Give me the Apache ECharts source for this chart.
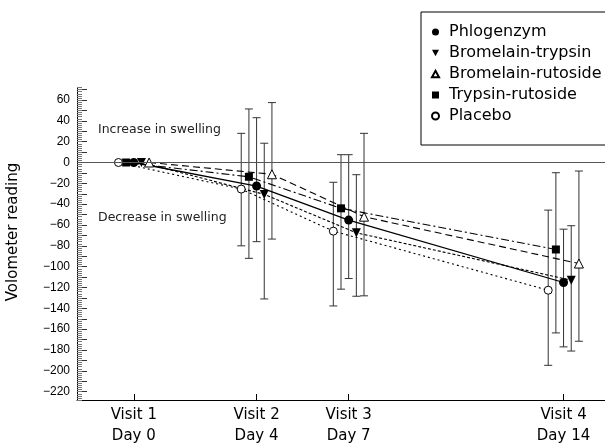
<html>
<head>
    <meta charset="utf-8">
    <title>Volometer reading</title>
    <script src="https://cdn.jsdelivr.net/npm/echarts@6/dist/echarts.min.js"></script>
</head>
<body style="margin:0">
    <div id="main" style="width:605px;height:447px"></div>
    <script type="text/javascript">
        var days = [0, 4, 7, 14];
        var visitLabels = ['Visit 1\nDay 0', 'Visit 2\nDay 4', 'Visit 3\nDay 7', 'Visit 4\nDay 14'];
        var yMajorTicks = [-220, -210, -200, -190, -180, -170, -160, -150, -140, -130, -120, -110, -100, -90, -80, -70, -60, -50, -40, -30, -20, -10, 0, 10, 20, 30, 40, 50, 60, 70];
        var yTickLabels = [-220, -200, -180, -160, -140, -120, -100, -80, -60, -40, -20, 0, 20, 40, 60];

        var names = ['Phlogenzym', 'Bromelain-trypsin', 'Bromelain-rutoside', 'Trypsin-rutoside', 'Placebo'];
        // horizontal shift of each group at a visit (days)
        var offsets = [0, 0.25, 0.5, -0.25, -0.5];

        var phlogenzym = [0, -22.6, -55.3, -115.2];
        var phlogenzymHi = [null, 43, 7.5, -64];
        var phlogenzymLo = [null, -76, -111.4, -177];

        var bromTryp = [0, -30.6, -67.5, -113];
        var bromTrypHi = [null, 18.5, -11.7, -60.7];
        var bromTrypLo = [null, -131, -128.4, -181];

        var bromRuto = [0, -11.3, -52, -97];
        var bromRutoHi = [null, 57.5, 28, -8.2];
        var bromRutoLo = [null, -73.5, -128, -171.6];

        var trypRuto = [0, -13.7, -44, -83.5];
        var trypRutoHi = [null, 51.4, 7.5, -9.8];
        var trypRutoLo = [null, -92, -121.6, -163.6];

        var placebo = [0, -25.5, -65.9, -122.6];
        var placeboHi = [null, 28, -19, -45.7];
        var placeboLo = [null, -80, -137.7, -194.7];

        var means = [phlogenzym, bromTryp, bromRuto, trypRuto, placebo];
        var his = [phlogenzymHi, bromTrypHi, bromRutoHi, trypRutoHi, placeboHi];
        var los = [phlogenzymLo, bromTrypLo, bromRutoLo, trypRutoLo, placeboLo];

        var symbols = ['circle', 'path://M0,0 L10,0 L5,9 Z', 'path://M5,0 L10,9 L0,9 Z', 'rect', 'circle'];
        var symbolSizes = [9, 9, 9, 8, 8];
        var filled = [true, true, false, true, false];
        var dashes = ['solid', [3, 2], [7, 4], [8, 3, 2, 3], [2, 3]];

        var minorTicks = [];
        for (var t = -228; t <= 72; t += 2) minorTicks.push(t);

        var font = 'DejaVu Sans';
        var myChart = echarts.init(document.getElementById('main'));

        var series = [];
        names.forEach(function (name, s) {
            var pts = [], bars = [];
            for (var i = 0; i < days.length; i++) {
                pts.push([days[i] + offsets[s], means[s][i]]);
                if (his[s][i] != null) bars.push([days[i] + offsets[s], los[s][i], his[s][i]]);
            }
            series.push({
                name: 'eb-' + name,
                type: 'custom',
                silent: true,
                data: bars,
                encode: { x: 0, y: [1, 2] },
                z: 1,
                renderItem: function (params, api) {
                    var lo = api.coord([api.value(0), api.value(1)]);
                    var hi = api.coord([api.value(0), api.value(2)]);
                    var w = 4;
                    var st = { stroke: '#333', lineWidth: 1 };
                    return {
                        type: 'group',
                        children: [
                            { type: 'line', shape: { x1: lo[0], y1: lo[1], x2: hi[0], y2: hi[1] }, style: st },
                            { type: 'line', shape: { x1: lo[0] - w, y1: lo[1], x2: lo[0] + w, y2: lo[1] }, style: st },
                            { type: 'line', shape: { x1: hi[0] - w, y1: hi[1], x2: hi[0] + w, y2: hi[1] }, style: st }
                        ]
                    };
                }
            });
            var line = {
                name: name,
                type: 'line',
                data: pts,
                symbol: symbols[s],
                symbolSize: symbolSizes[s],
                showAllSymbol: true,
                z: 3,
                lineStyle: { color: '#000', width: s === 0 ? 1.3 : 1.1, type: dashes[s] },
                itemStyle: { color: filled[s] ? '#000' : '#fff', borderColor: '#000', borderWidth: filled[s] ? 0 : 1 }
            };
            if (s === 0) {
                line.markLine = {
                    silent: true,
                    symbol: ['none', 'none'],
                    label: { show: false },
                    lineStyle: { color: '#555', type: 'solid', width: 1 },
                    data: [{ yAxis: 0 }]
                };
            }
            series.push(line);
        });

        var option = {
            animation: false,
            grid: { left: 77, right: 0, top: 87.5, bottom: 47, outerBoundsMode: 'none' },
            legend: {
                orient: 'vertical',
                left: 421,
                top: 12,
                padding: [12, 10, 21, 10],
                itemGap: 5,
                itemWidth: 7,
                itemHeight: 7,
                textStyle: { fontFamily: font, fontSize: 16, color: '#000', lineHeight: 16, padding: [0, 0, 0, 5] },
                data: names.map(function (n, s) { return { name: n, icon: symbols[s] }; })
            },
            xAxis: {
                type: 'value',
                min: -1.85,
                max: 15.35,
                splitLine: { show: false },
                axisLine: { onZero: false, lineStyle: { color: '#000', width: 1 } },
                axisTick: { inside: true, length: 6, customValues: days, lineStyle: { color: '#000' } },
                axisLabel: {
                    customValues: days,
                    margin: 5,
                    fontFamily: font, fontSize: 15, lineHeight: 21, color: '#000',
                    formatter: function (v) { return visitLabels[days.indexOf(v)]; }
                }
            },
            yAxis: [{
                type: 'value',
                min: -228,
                max: 72,
                splitLine: { show: false },
                axisLine: { show: true, onZero: false, lineStyle: { color: '#000', width: 1 } },
                axisTick: { inside: true, length: 10, customValues: yMajorTicks, lineStyle: { color: '#333' } },
                axisLabel: {
                    customValues: yTickLabels,
                    margin: 7,
                    fontFamily: 'Liberation Sans', fontSize: 12, color: '#000',
                    formatter: function (v) { return String(v).replace('-', '\u2212'); }
                }
            }, {
                type: 'value',
                position: 'left',
                min: -228,
                max: 72,
                splitLine: { show: false },
                axisLine: { show: false, onZero: false },
                axisLabel: { show: false },
                axisTick: { show: true, inside: true, length: 5, customValues: minorTicks, lineStyle: { color: '#777' } }
            }],
            graphic: [
                { type: 'rect', z: 1, shape: { x: 421, y: 12, width: 300, height: 133 },
                  style: { fill: '#fff', stroke: '#000', lineWidth: 1 } },
                { type: 'text', x: 13, y: 232, rotation: Math.PI / 2,
                  style: { text: 'Volometer reading', font: '15px "DejaVu Sans"', fill: '#000', textAlign: 'center', textVerticalAlign: 'middle' } },
                { type: 'text', x: 98, y: 130,
                  style: { text: 'Increase in swelling', font: '12.5px "DejaVu Sans"', fill: '#222', textVerticalAlign: 'middle' } },
                { type: 'text', x: 98, y: 218,
                  style: { text: 'Decrease in swelling', font: '12.5px "DejaVu Sans"', fill: '#222', textVerticalAlign: 'middle' } }
            ],
            series: series
        };
        myChart.setOption(option);
    </script>
</body>
</html>
